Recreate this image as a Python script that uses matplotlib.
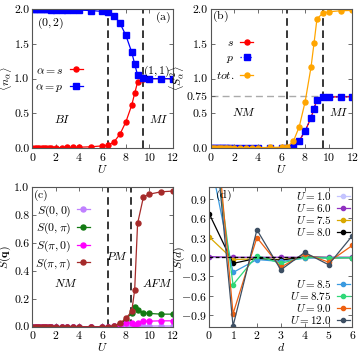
import matplotlib
matplotlib.use("Agg")
import matplotlib.pyplot as plt
import numpy as np

plt.rcParams['font.family'] = 'serif'
plt.rcParams['font.serif'] = ['cmr10', 'DejaVu Serif']
plt.rcParams['mathtext.fontset'] = 'cm'
plt.rcParams['axes.formatter.use_mathtext'] = True
plt.rcParams['font.size'] = 8.5
plt.rcParams['axes.unicode_minus'] = True

# ---------------- data ----------------
U = [0, 0.2, 0.4, 0.6, 0.8, 1.0, 1.2, 1.4, 1.6, 2.0, 2.5, 3.0, 3.5, 4.0, 5.0,
     6.0, 6.5, 7.0, 7.5, 8.0, 8.5, 8.75, 9.0, 9.5, 10, 11, 12]

n_s = [0.005, 0.005, 0.005, 0.005, 0.006, 0.006, 0.007, 0.007, 0.008, 0.009, 0.01,
       0.012, 0.014, 0.016, 0.022, 0.035, 0.045, 0.095, 0.205, 0.38, 0.62, 0.79,
       0.95, 0.995, 1.0, 1.0, 1.0]
n_p = [1.995, 1.995, 1.995, 1.995, 1.994, 1.994, 1.993, 1.993, 1.992, 1.991, 1.99,
       1.988, 1.986, 1.984, 1.978, 1.965, 1.955, 1.905, 1.795, 1.62, 1.38, 1.21,
       1.05, 1.005, 1.0, 1.0, 1.0]

S2_s = [0.004, 0.004, 0.004, 0.004, 0.004, 0.004, 0.004, 0.004, 0.004, 0.004, 0.004,
        0.004, 0.004, 0.004, 0.004, 0.005, 0.006, 0.025, 0.11, 0.25, 0.44, 0.57,
        0.70, 0.73, 0.735, 0.74, 0.74]
S2_p = list(S2_s)
S2_tot = [0.01, 0.01, 0.01, 0.01, 0.01, 0.01, 0.01, 0.01, 0.01, 0.01, 0.01,
          0.01, 0.01, 0.01, 0.012, 0.015, 0.022, 0.1, 0.31, 0.67, 1.17, 1.51,
          1.86, 1.94, 1.96, 1.975, 1.98]

Sq_00 = [0.0] * 18 + [0.001, 0.003, 0.005, 0.005, 0.005, 0.005, 0.005, 0.005, 0.005]
Sq_0pi = [0.0] * 17 + [0.003, 0.02, 0.05, 0.10, 0.14, 0.12, 0.10, 0.095, 0.09, 0.09]
Sq_pi0 = [0.0] * 17 + [0.003, 0.015, 0.03, 0.025, 0.015, 0.03, 0.039, 0.04, 0.042, 0.042]
Sq_pipi = [0.0] * 17 + [0.005, 0.024, 0.06, 0.11, 0.263, 0.74, 0.93, 0.95, 0.967, 0.972]

d = [0, 1, 2, 3, 4, 5, 6]
Sd_labels = ['$U=1.0$', '$U=6.0$', '$U=7.5$', '$U=8.0$',
             '$U=8.5$', '$U=8.75$', '$U=9.0$', '$U=12.0$']
Sd_values = [
    [0.0, 0.0, 0.0, 0.0, 0.0, 0.0, 0.0],
    [0.005, -0.005, -0.005, -0.005, -0.005, -0.005, -0.005],
    [0.31, -0.04, -0.03, -0.04, -0.01, -0.01, -0.01],
    [0.67, -0.10, -0.02, -0.05, 0.0, -0.01, -0.01],
    [1.6, -0.24, -0.04, -0.07, -0.02, -0.01, -0.01],
    [2.4, -0.43, 0.02, -0.10, 0.0, -0.02, -0.01],
    [3.2, -0.88, 0.30, -0.16, 0.05, -0.08, 0.18],
    [2.85, -1.07, 0.42, -0.20, 0.07, -0.12, 0.33],
]
Sd_colors = ['#c4c4ff', '#9030c0', '#d9a800', '#000000',
             '#3a9ae0', '#30d878', '#ee6010', '#3d4f63']
zero_line_end = 3.8

# ---------------- figure ----------------
fig = plt.figure(figsize=(3.6, 3.6), dpi=100)
axa = fig.add_axes([0.0897, 0.588, 0.390, 0.387])
axb = fig.add_axes([0.585, 0.588, 0.394, 0.387])
axc = fig.add_axes([0.0897, 0.0925, 0.390, 0.3875])
axd = fig.add_axes([0.581, 0.0925, 0.398, 0.3875])

def style(ax):
    ax.tick_params(direction='in', top=True, right=True, length=3, width=0.6,
                   colors='#555555', labelcolor='black', pad=2)
    for s in ax.spines.values():
        s.set_color('#555555')
        s.set_linewidth(0.8)

vkw = dict(color='black', ls=(0, (5, 3)), lw=1.1, zorder=1)
mk = dict(lw=0.9, ms=3.6)
legkw = dict(frameon=False, markerfirst=False, handlelength=1.1,
             handletextpad=0.5, borderpad=0, borderaxespad=0)

# (a)
ax = axa
ax.plot(U, n_s, color='red', marker='o', label=r'$\alpha=s$', **mk)
ax.plot(U, n_p, color='blue', marker='s', label=r'$\alpha=p$', lw=0.9, ms=3.8)
ax.axvline(6.5, **vkw)
ax.axvline(9.5, **vkw)
ax.set_xlim(0, 12); ax.set_ylim(0, 2.0)
ax.set_xticks([0, 2, 4, 6, 8, 10, 12]); ax.set_yticks([0, 0.5, 1.0, 1.5, 2.0])
ax.set_yticklabels(['0.0', '0.5', '1.0', '1.5', '2.0'])
ax.set_xlabel('$U$', labelpad=0)
ax.set_ylabel(r'$\langle n_\alpha\rangle$')
ax.yaxis.set_label_coords(-0.13, 0.5)
ax.text(0.4, 1.8, '$(0,2)$', va='center')
ax.text(11.85, 1.88, '$\\mathrm{(a)}$', ha='right', va='center')
ax.text(9.5, 1.1, '$(1,1)$', va='center')
ax.text(2.6, 0.42, '$BI$', ha='center', va='center')
ax.text(10.8, 0.42, '$MI$', ha='center', va='center')
ax.legend(loc='center right', bbox_to_anchor=(0.36, 0.494), labelspacing=0.5, **legkw)
style(ax)

# (b)
ax = axb
ax.axhline(0.75, color='#aaaaaa', ls=(0, (5, 3)), lw=1.0, zorder=0)
ax.plot(U, S2_s, color='red', marker='o', label='$s$', **mk)
ax.plot(U, S2_p, color='blue', marker='s', ls=':', label='$p$', lw=0.9, ms=3.8)
ax.plot(U, S2_tot, color='#ffa500', marker='o', label='$tot.$', **mk)
ax.axvline(6.5, **vkw)
ax.axvline(9.5, **vkw)
ax.set_xlim(0, 12); ax.set_ylim(0, 2.0)
ax.set_xticks([0, 2, 4, 6, 8, 10, 12]); ax.set_yticks([0, 0.5, 0.75, 1.0, 1.5, 2.0])
ax.set_yticklabels(['0.0', '0.5', '0.75', '1.0', '1.5', '2.0'])
ax.set_xlabel('$U$', labelpad=0)
ax.set_ylabel(r'$\langle S^2_\alpha\rangle$')
ax.yaxis.set_label_coords(-0.17, 0.5)
ax.text(0.1, 1.9, '$\\mathrm{(b)}$', va='center')
ax.text(2.8, 0.52, '$NM$', ha='center', va='center')
ax.text(10.8, 0.52, '$MI$', ha='center', va='center')
ax.legend(loc='center right', bbox_to_anchor=(0.30, 0.639), labelspacing=0.4, **legkw)
style(ax)

# (c)
ax = axc
ax.plot(U, Sq_00, color='#c080ff', marker='o', label=r'$S(0,0)$', **mk)
ax.plot(U, Sq_0pi, color='#137a13', marker='o', label=r'$S(0,\pi)$', **mk)
ax.plot(U, Sq_pi0, color='#ff00ff', marker='o', label=r'$S(\pi,0)$', **mk)
ax.plot(U, Sq_pipi, color='#a52a2a', marker='o', label=r'$S(\pi,\pi)$', **mk)
ax.axvline(6.5, **vkw)
ax.axvline(8.45, **vkw)
ax.set_xlim(0, 12); ax.set_ylim(0, 1.0)
ax.set_xticks([0, 2, 4, 6, 8, 10, 12]); ax.set_yticks([0, 0.2, 0.4, 0.6, 0.8, 1.0])
ax.set_yticklabels(['0.0', '0.2', '0.4', '0.6', '0.8', '1.0'])
ax.set_xlabel('$U$', labelpad=0)
ax.set_ylabel(r'$S(\mathbf{q})$')
ax.yaxis.set_label_coords(-0.135, 0.5)
ax.text(0.1, 0.94, '$\\mathrm{(c)}$', va='center')
ax.text(2.9, 0.31, '$NM$', ha='center', va='center')
ax.text(7.2, 0.51, '$PM$', ha='center', va='center')
ax.text(10.7, 0.31, '$AFM$', ha='center', va='center')
ax.legend(loc='center right', bbox_to_anchor=(0.41, 0.64), labelspacing=0.2, **legkw)
style(ax)

# (d)
ax = axd
lines = []
for lab, vals, col in zip(Sd_labels, Sd_values, Sd_colors):
    ln, = ax.plot(d, vals, color=col, marker='o', lw=0.9, ms=3.0, label=lab)
    lines.append(ln)
ax.axhline(0, xmin=0, xmax=zero_line_end / 6, color='black', ls=(0, (3, 2)), lw=0.9, zorder=2.5)
ax.set_xlim(0, 6); ax.set_ylim(-1.08, 1.08)
ax.set_xticks([0, 1, 2, 3, 4, 5, 6]); ax.set_yticks([-0.9, -0.6, -0.3, 0, 0.3, 0.6, 0.9])
ax.set_xlabel('$d$', labelpad=0)
ax.set_ylabel('$S(d)$')
ax.yaxis.set_label_coords(-0.155, 0.5)
ax.text(0.25, 0.95, '$\\mathrm{(d)}$', va='center')
leg1 = ax.legend(handles=lines[:4], loc='center right', bbox_to_anchor=(0.98, 0.806),
                 labelspacing=0.0, fontsize=8, **legkw)
ax.add_artist(leg1)
ax.legend(handles=lines[4:], loc='center right', bbox_to_anchor=(0.98, 0.178),
          labelspacing=0.0, fontsize=8, **legkw)
style(ax)

fig.savefig('out.png', dpi=100)
